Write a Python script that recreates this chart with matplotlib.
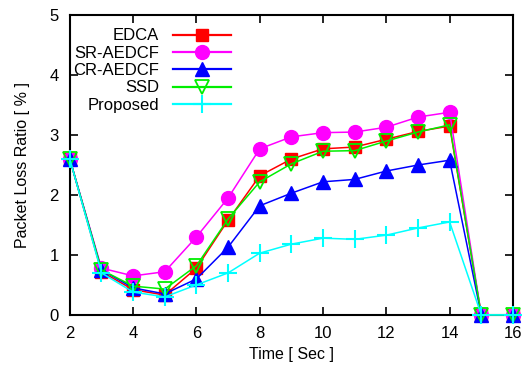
import matplotlib
matplotlib.use("Agg")
import matplotlib.pyplot as plt

plt.rcParams["font.family"] = ["Liberation Sans", "DejaVu Sans"]

# data
time_sec = [2, 3, 4, 5, 6, 7, 8, 9, 10, 11, 12, 13, 14, 15, 16]
edca = [2.6, 0.72, 0.42, 0.33, 0.78, 1.58, 2.32, 2.6, 2.77, 2.8, 2.93, 3.06, 3.15, 0, 0]
sr_aedcf = [2.6, 0.78, 0.65, 0.72, 1.3, 1.95, 2.77, 2.97, 3.04, 3.05, 3.13, 3.3, 3.38, 0, 0]
cr_aedcf = [2.6, 0.75, 0.45, 0.35, 0.6, 1.13, 1.82, 2.03, 2.22, 2.26, 2.4, 2.5, 2.58, 0, 0]
ssd = [2.6, 0.75, 0.48, 0.43, 0.82, 1.6, 2.22, 2.52, 2.73, 2.74, 2.9, 3.05, 3.17, 0, 0]
proposed = [2.6, 0.7, 0.38, 0.3, 0.5, 0.7, 1.03, 1.18, 1.28, 1.26, 1.33, 1.45, 1.55, 0, 0]

series = [
    ("EDCA", edca, "#ff0000", dict(marker="s", ms=9)),
    ("SR-AEDCF", sr_aedcf, "#ff00ff", dict(marker="o", ms=10)),
    ("CR-AEDCF", cr_aedcf, "#0000ff", dict(marker="^", ms=10)),
    ("SSD", ssd, "#00ee00", dict(marker="v", ms=10, mfc="none", mew=1.3)),
    ("Proposed", proposed, "#00ffff", dict(marker="+", ms=13, mew=1.5)),
]

fig = plt.figure(figsize=(5.25, 3.7), dpi=100)
ax = fig.add_axes([0.133, 0.149, 0.844, 0.81])

for name, vals, col, mk in series:
    ax.plot(time_sec, vals, color=col, lw=1.1, label=name, clip_on=False, zorder=3, **mk)

ax.set_xlim(2, 16)
ax.set_ylim(0, 5)
ax.set_xticks(range(2, 17, 2))
ax.set_yticks(range(0, 6))
ax.tick_params(direction="in", length=6, width=1.2, top=True, right=True,
               labelsize=12, pad=8)
for s in ax.spines.values():
    s.set_linewidth(1.5)

ax.set_xlabel("Time [ Sec ]", fontsize=11.5, labelpad=4)
ax.set_ylabel("Packet Loss Ratio [ % ]", fontsize=11.5, labelpad=14)

leg = ax.legend(loc="upper right", bbox_to_anchor=(0.39, 0.995), frameon=False,
                markerfirst=False, fontsize=12, handlelength=3.5,
                labelspacing=0.14, handletextpad=0.8, borderpad=0.2)
for ln in leg.get_lines():
    ln.set_linewidth(1.6)

fig.savefig("out.png", dpi=100)
